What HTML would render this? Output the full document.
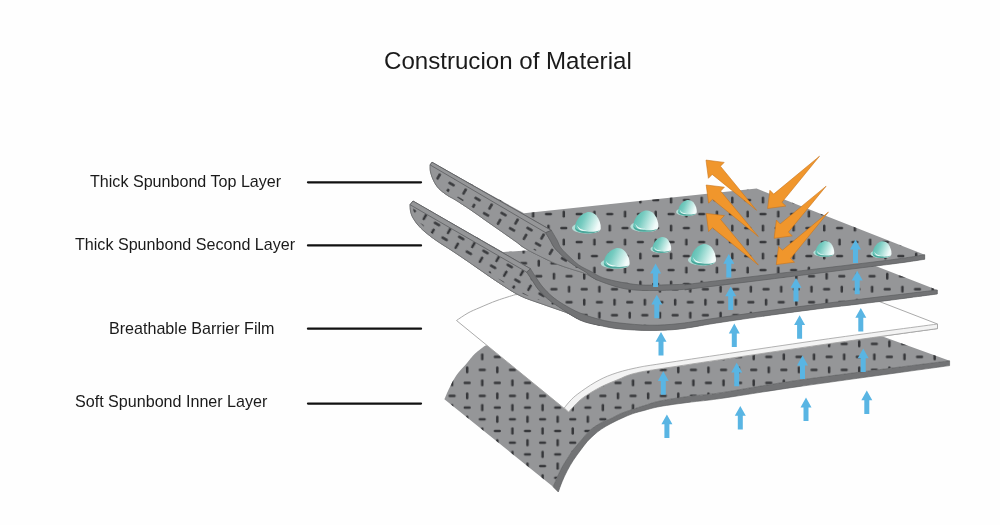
<!DOCTYPE html>
<html><head><meta charset="utf-8"><style>
html,body{margin:0;padding:0;background:#fefefe;}
#wrap{position:relative;width:1000px;height:525px;overflow:hidden;background:#fefefe;font-family:"Liberation Sans",sans-serif;color:#1a1a1a;}
.t{position:absolute;white-space:nowrap;line-height:1;will-change:transform;}
</style></head><body><div id="wrap">
<svg width="1000" height="525" viewBox="0 0 1000 525" style="position:absolute;left:0;top:0">
<defs>
<pattern id="p4" patternUnits="userSpaceOnUse" width="30.16" height="26.00" patternTransform="translate(444.56,389.40) rotate(0.0)"><g fill="#36373a"><rect x="3.94" y="5.25" width="7.2" height="2.5" rx="1.25"/><rect x="21.37" y="2.90" width="2.5" height="7.2" rx="1.25"/><rect x="6.29" y="15.90" width="2.5" height="7.2" rx="1.25"/><rect x="19.02" y="18.25" width="7.2" height="2.5" rx="1.25"/></g></pattern><pattern id="p4b" patternUnits="userSpaceOnUse" width="30.16" height="23.40" patternTransform="translate(444.56,390.05) rotate(0.0)"><g fill="#36373a"><rect x="3.94" y="4.60" width="7.2" height="2.5" rx="1.25"/><rect x="21.37" y="2.25" width="2.5" height="7.2" rx="1.25"/><rect x="6.29" y="13.95" width="2.5" height="7.2" rx="1.25"/><rect x="19.02" y="16.30" width="7.2" height="2.5" rx="1.25"/></g></pattern><pattern id="p2" patternUnits="userSpaceOnUse" width="30.30" height="26.00" patternTransform="translate(561.52,295.70) rotate(0.0)"><g fill="#36373a"><rect x="3.98" y="5.25" width="7.2" height="2.5" rx="1.25"/><rect x="21.48" y="2.90" width="2.5" height="7.2" rx="1.25"/><rect x="6.33" y="15.90" width="2.5" height="7.2" rx="1.25"/><rect x="19.12" y="18.25" width="7.2" height="2.5" rx="1.25"/></g></pattern><pattern id="p1" patternUnits="userSpaceOnUse" width="30.64" height="28.00" patternTransform="translate(556.14,221.10) rotate(0.0)"><g fill="#36373a"><rect x="4.06" y="5.75" width="7.2" height="2.5" rx="1.25"/><rect x="21.73" y="3.40" width="2.5" height="7.2" rx="1.25"/><rect x="6.41" y="17.40" width="2.5" height="7.2" rx="1.25"/><rect x="19.38" y="19.75" width="7.2" height="2.5" rx="1.25"/></g></pattern><pattern id="pt1" patternUnits="userSpaceOnUse" width="30.00" height="18.00" patternTransform="translate(447.35,176.45) rotate(30.0)"><g fill="#36373a"><rect x="3.90" y="3.25" width="7.2" height="2.5" rx="1.25"/><rect x="21.25" y="0.90" width="2.5" height="7.2" rx="1.25"/><rect x="6.25" y="9.90" width="2.5" height="7.2" rx="1.25"/><rect x="18.90" y="12.25" width="7.2" height="2.5" rx="1.25"/></g></pattern><pattern id="pt2" patternUnits="userSpaceOnUse" width="28.00" height="18.00" patternTransform="translate(433.19,216.60) rotate(30.0)"><g fill="#36373a"><rect x="3.40" y="3.25" width="7.2" height="2.5" rx="1.25"/><rect x="19.75" y="0.90" width="2.5" height="7.2" rx="1.25"/><rect x="5.75" y="9.90" width="2.5" height="7.2" rx="1.25"/><rect x="17.40" y="12.25" width="7.2" height="2.5" rx="1.25"/></g></pattern>
<clipPath id="ct1"><path d="M432.0,162.2 L551.4,230.4 L545.7,232.7 C546.4,233.9 548.5,237.5 550.0,240.0 C551.5,242.5 552.2,245.0 554.5,247.9 C556.8,250.8 560.8,254.5 564.0,257.4 C567.2,260.2 570.1,262.6 573.6,265.0 C577.1,267.4 581.1,269.2 585.0,271.7 C588.9,274.2 595.2,278.6 597.2,280.0 C595.2,278.9 588.9,275.2 585.0,273.5 C581.1,271.8 578.7,271.5 573.6,269.8 C568.5,268.1 562.3,266.5 554.5,263.1 C546.7,259.7 533.2,253.0 526.8,249.4 C520.4,245.8 520.4,244.9 516.1,241.8 C511.8,238.8 506.0,234.7 500.9,231.1 C495.8,227.5 490.8,224.1 485.7,220.5 C480.6,216.9 475.6,213.2 470.5,209.8 C465.4,206.4 459.1,202.2 455.2,199.8 C451.3,197.4 450.1,197.2 447.3,195.3 C444.6,193.4 441.0,190.8 438.7,188.4 C436.4,186.0 435.0,183.4 433.6,180.7 C432.2,178.0 431.1,174.6 430.5,172.0 C429.9,169.4 430.2,166.1 430.1,164.9 Z"/></clipPath>
<clipPath id="ct2"><path d="M413.0,201.0 L530.5,268.8 L526.7,272.1 C527.7,273.6 530.7,278.0 532.6,280.9 C534.5,283.8 535.8,286.4 538.3,289.4 C540.8,292.3 544.0,295.7 547.4,298.6 C550.8,301.5 553.5,303.4 558.9,307.0 C564.3,310.6 573.1,316.9 580.0,320.0 C586.9,323.1 596.7,324.6 600.0,325.5 C596.7,324.4 585.7,321.2 580.0,319.0 C574.3,316.8 571.9,314.8 565.7,312.3 C559.5,309.9 550.5,307.1 542.9,304.3 C535.3,301.5 527.1,299.2 520.0,295.7 C512.9,292.2 506.0,287.4 500.0,283.5 C494.0,279.6 489.1,276.2 483.8,272.5 C478.5,268.8 473.3,265.1 468.0,261.5 C462.7,257.9 457.2,254.1 452.0,250.7 C446.8,247.3 441.5,244.1 437.0,241.0 C432.5,237.9 428.2,234.6 425.0,231.9 C421.8,229.2 420.1,227.4 418.0,225.0 C415.9,222.6 413.9,219.5 412.6,217.2 C411.4,214.9 410.9,213.1 410.5,211.0 C410.1,208.9 410.1,205.8 410.0,204.7 Z"/></clipPath>
<clipPath id="cTop"><rect x="0" y="0" width="1000" height="402"/></clipPath>
<clipPath id="cBot"><rect x="0" y="402" width="1000" height="123"/></clipPath>
<linearGradient id="dg" x1="0" y1="0" x2="1" y2="0.35">
<stop offset="0" stop-color="#4db5a8"/><stop offset="0.4" stop-color="#76cbc0"/><stop offset="0.75" stop-color="#bfe8e2"/><stop offset="1" stop-color="#f2fbfa"/>
</linearGradient>
</defs>
<g stroke-linejoin="round">
<!-- layer 4 -->
<path d="M444.4,399.3 C445.2,397.4 447.4,391.9 449.4,387.9 C451.4,383.8 453.7,379.1 456.6,375.0 C459.5,370.9 463.5,367.2 466.6,363.6 C469.7,360.0 472.0,356.6 475.1,353.6 C478.2,350.6 483.4,347.0 485.1,345.7 L520.0,335.0 L700.0,335.0 L884.0,337.0 L949.6,360.8 C924.7,364.0 838.3,374.6 800.0,380.0 C761.7,385.4 738.3,390.2 720.0,392.9 C701.7,395.6 700.0,394.8 690.0,396.2 C680.0,397.6 667.6,399.4 660.0,401.0 C652.4,402.6 648.8,404.2 644.3,405.6 C639.8,407.0 636.7,408.0 632.9,409.3 C629.1,410.6 625.2,411.7 621.4,413.3 C617.6,414.9 612.9,417.7 610.0,419.0 C607.1,420.3 606.6,420.1 604.3,421.2 C602.0,422.3 598.6,424.1 596.0,425.8 C593.4,427.5 591.3,429.0 588.9,431.4 C586.5,433.8 584.0,436.9 581.4,440.0 C578.8,443.1 575.4,446.9 573.0,450.0 C570.6,453.1 569.1,455.8 567.3,458.6 C565.5,461.5 563.7,464.2 562.1,467.1 C560.5,470.0 559.4,472.4 557.9,475.7 C556.4,479.0 553.9,484.9 553.1,486.8 Z" fill="#959698"/>
<path d="M444.4,399.3 C445.2,397.4 447.4,391.9 449.4,387.9 C451.4,383.8 453.7,379.1 456.6,375.0 C459.5,370.9 463.5,367.2 466.6,363.6 C469.7,360.0 472.0,356.6 475.1,353.6 C478.2,350.6 483.4,347.0 485.1,345.7 L520.0,335.0 L700.0,335.0 L884.0,337.0 L949.6,360.8 C924.7,364.0 838.3,374.6 800.0,380.0 C761.7,385.4 738.3,390.2 720.0,392.9 C701.7,395.6 700.0,394.8 690.0,396.2 C680.0,397.6 667.6,399.4 660.0,401.0 C652.4,402.6 648.8,404.2 644.3,405.6 C639.8,407.0 636.7,408.0 632.9,409.3 C629.1,410.6 625.2,411.7 621.4,413.3 C617.6,414.9 612.9,417.7 610.0,419.0 C607.1,420.3 606.6,420.1 604.3,421.2 C602.0,422.3 598.6,424.1 596.0,425.8 C593.4,427.5 591.3,429.0 588.9,431.4 C586.5,433.8 584.0,436.9 581.4,440.0 C578.8,443.1 575.4,446.9 573.0,450.0 C570.6,453.1 569.1,455.8 567.3,458.6 C565.5,461.5 563.7,464.2 562.1,467.1 C560.5,470.0 559.4,472.4 557.9,475.7 C556.4,479.0 553.9,484.9 553.1,486.8 Z" fill="url(#p4)" clip-path="url(#cTop)"/>
<path d="M444.4,399.3 C445.2,397.4 447.4,391.9 449.4,387.9 C451.4,383.8 453.7,379.1 456.6,375.0 C459.5,370.9 463.5,367.2 466.6,363.6 C469.7,360.0 472.0,356.6 475.1,353.6 C478.2,350.6 483.4,347.0 485.1,345.7 L520.0,335.0 L700.0,335.0 L884.0,337.0 L949.6,360.8 C924.7,364.0 838.3,374.6 800.0,380.0 C761.7,385.4 738.3,390.2 720.0,392.9 C701.7,395.6 700.0,394.8 690.0,396.2 C680.0,397.6 667.6,399.4 660.0,401.0 C652.4,402.6 648.8,404.2 644.3,405.6 C639.8,407.0 636.7,408.0 632.9,409.3 C629.1,410.6 625.2,411.7 621.4,413.3 C617.6,414.9 612.9,417.7 610.0,419.0 C607.1,420.3 606.6,420.1 604.3,421.2 C602.0,422.3 598.6,424.1 596.0,425.8 C593.4,427.5 591.3,429.0 588.9,431.4 C586.5,433.8 584.0,436.9 581.4,440.0 C578.8,443.1 575.4,446.9 573.0,450.0 C570.6,453.1 569.1,455.8 567.3,458.6 C565.5,461.5 563.7,464.2 562.1,467.1 C560.5,470.0 559.4,472.4 557.9,475.7 C556.4,479.0 553.9,484.9 553.1,486.8 Z" fill="url(#p4b)" clip-path="url(#cBot)"/>
<path d="M553.1,486.8 C553.9,484.9 556.4,479.0 557.9,475.7 C559.4,472.4 560.5,470.0 562.1,467.1 C563.7,464.2 565.5,461.5 567.3,458.6 C569.1,455.8 570.6,453.1 573.0,450.0 C575.4,446.9 578.8,443.1 581.4,440.0 C584.0,436.9 586.5,433.8 588.9,431.4 C591.3,429.0 593.4,427.5 596.0,425.8 C598.6,424.1 602.0,422.3 604.3,421.2 C606.6,420.1 607.1,420.3 610.0,419.0 C612.9,417.7 617.6,414.9 621.4,413.3 C625.2,411.7 629.1,410.6 632.9,409.3 C636.7,408.0 639.8,407.0 644.3,405.6 C648.8,404.2 652.4,402.6 660.0,401.0 C667.6,399.4 680.0,397.6 690.0,396.2 C700.0,394.8 701.7,395.6 720.0,392.9 C738.3,390.2 761.7,385.4 800.0,380.0 C838.3,374.6 924.7,364.0 949.6,360.8 L949.6,365.6 C924.7,369.1 838.3,380.9 800.0,386.4 C761.7,391.9 738.3,396.0 720.0,398.6 C701.7,401.2 700.0,400.9 690.0,402.2 C680.0,403.5 667.6,405.1 660.0,406.5 C652.4,407.9 648.8,409.2 644.3,410.4 C639.8,411.6 636.7,412.3 632.9,413.6 C629.1,414.9 625.2,416.7 621.4,418.4 C617.6,420.1 613.3,422.2 610.0,424.0 C606.7,425.8 604.1,427.3 601.4,429.1 C598.7,430.9 596.4,432.8 594.0,434.9 C591.6,437.0 589.3,439.2 587.1,441.7 C584.9,444.2 583.0,446.9 580.7,450.0 C578.4,453.1 575.5,456.9 573.3,460.3 C571.1,463.7 569.2,467.0 567.3,470.6 C565.4,474.2 563.6,478.1 562.1,481.7 C560.6,485.3 558.9,490.3 558.3,492.0 Z" fill="#727375" stroke="#58595b" stroke-width="0.6"/>
<!-- film -->
<path d="M456.5,320.5 C458.4,319.2 464.1,315.2 468.0,313.0 C471.9,310.8 475.2,309.6 480.0,307.5 C484.8,305.4 491.2,302.6 497.0,300.5 C502.8,298.4 512.0,295.7 515.0,294.7 L560.0,292.0 L700.0,288.0 L878.0,301.0 L937.5,324.0 L937.5,328.6 C917.9,331.3 864.6,338.6 820.0,345.0 C775.4,351.4 700.8,362.6 670.0,367.3 C639.2,372.0 643.7,371.2 635.0,373.3 C626.3,375.4 623.6,377.3 617.9,379.6 C612.2,381.9 606.4,384.1 600.7,387.0 C595.0,389.9 587.9,394.3 583.6,397.3 C579.3,400.3 577.5,402.6 575.0,405.0 C572.5,407.4 569.7,410.8 568.6,412.0 Z" fill="#ffffff" stroke="#a0a0a0" stroke-width="0.9"/>
<path d="M564.3,408.0 C565.2,406.8 567.7,403.4 570.0,401.0 C572.3,398.6 573.7,397.0 577.9,393.9 C582.1,390.8 589.3,385.6 595.0,382.4 C600.7,379.1 605.4,376.8 612.1,374.4 C618.8,372.0 625.4,370.1 635.0,368.1 C644.6,366.1 639.2,367.0 670.0,362.3 C700.8,357.6 775.4,346.4 820.0,340.0 C864.6,333.6 917.9,326.7 937.5,324.0 L937.5,328.6 C917.9,331.3 864.6,338.6 820.0,345.0 C775.4,351.4 700.8,362.6 670.0,367.3 C639.2,372.0 643.7,371.2 635.0,373.3 C626.3,375.4 623.6,377.3 617.9,379.6 C612.2,381.9 606.4,384.1 600.7,387.0 C595.0,389.9 587.9,394.3 583.6,397.3 C579.3,400.3 577.5,402.6 575.0,405.0 C572.5,407.4 569.7,410.8 568.6,412.0 Z" fill="#f3f3f3" stroke="#a0a0a0" stroke-width="0.8"/>
<!-- layer 2 -->
<path d="M413.0,201.0 L502.9,252.1 L526.3,250.6 L600.0,242.0 L800.0,242.0 L873.0,265.0 L937.3,290.0 L937.3,294.0 C927.8,295.2 902.9,298.6 880.0,301.5 C857.1,304.4 826.7,307.7 800.0,311.2 C773.3,314.7 740.0,319.5 720.0,322.5 C700.0,325.5 691.7,327.7 680.0,329.0 C668.3,330.3 660.0,330.5 650.0,330.5 C640.0,330.5 628.3,329.8 620.0,329.0 C611.7,328.2 603.3,326.1 600.0,325.5 C596.7,324.4 585.7,321.2 580.0,319.0 C574.3,316.8 571.9,314.8 565.7,312.3 C559.5,309.9 550.5,307.1 542.9,304.3 C535.3,301.5 527.1,299.2 520.0,295.7 C512.9,292.2 506.0,287.4 500.0,283.5 C494.0,279.6 489.1,276.2 483.8,272.5 C478.5,268.8 473.3,265.1 468.0,261.5 C462.7,257.9 457.2,254.1 452.0,250.7 C446.8,247.3 441.5,244.1 437.0,241.0 C432.5,237.9 428.2,234.6 425.0,231.9 C421.8,229.2 420.1,227.4 418.0,225.0 C415.9,222.6 413.9,219.5 412.6,217.2 C411.4,214.9 410.9,213.1 410.5,211.0 C410.1,208.9 410.1,205.8 410.0,204.7 Z" fill="#959698"/>
<path d="M413.0,201.0 L502.9,252.1 L526.3,250.6 L600.0,242.0 L800.0,242.0 L873.0,265.0 L937.3,290.0 C927.8,291.1 902.9,294.1 880.0,296.8 C857.1,299.6 826.7,303.1 800.0,306.5 C773.3,309.9 740.0,314.7 720.0,317.5 C700.0,320.3 691.7,322.2 680.0,323.5 C668.3,324.8 660.0,325.3 650.0,325.2 C640.0,325.1 628.3,323.9 620.0,323.0 C611.7,322.1 606.7,321.2 600.0,319.5 C593.3,317.8 586.1,315.5 580.0,313.0 C573.9,310.5 568.1,307.1 563.4,304.3 C558.7,301.5 555.4,299.2 552.0,296.3 C548.6,293.4 545.4,290.0 542.9,287.1 C540.4,284.2 539.2,282.2 537.1,279.1 C535.0,276.1 531.6,270.5 530.5,268.8 Z" fill="url(#p2)"/>
<path d="M413.0,201.0 L530.5,268.8 L526.7,272.1 C527.7,273.6 530.7,278.0 532.6,280.9 C534.5,283.8 535.8,286.4 538.3,289.4 C540.8,292.3 544.0,295.7 547.4,298.6 C550.8,301.5 553.5,303.4 558.9,307.0 C564.3,310.6 573.1,316.9 580.0,320.0 C586.9,323.1 596.7,324.6 600.0,325.5 C596.7,324.4 585.7,321.2 580.0,319.0 C574.3,316.8 571.9,314.8 565.7,312.3 C559.5,309.9 550.5,307.1 542.9,304.3 C535.3,301.5 527.1,299.2 520.0,295.7 C512.9,292.2 506.0,287.4 500.0,283.5 C494.0,279.6 489.1,276.2 483.8,272.5 C478.5,268.8 473.3,265.1 468.0,261.5 C462.7,257.9 457.2,254.1 452.0,250.7 C446.8,247.3 441.5,244.1 437.0,241.0 C432.5,237.9 428.2,234.6 425.0,231.9 C421.8,229.2 420.1,227.4 418.0,225.0 C415.9,222.6 413.9,219.5 412.6,217.2 C411.4,214.9 410.9,213.1 410.5,211.0 C410.1,208.9 410.1,205.8 410.0,204.7 Z" fill="#959698" stroke="#6a6b6d" stroke-width="0.7"/>
<path d="M413.0,201.0 L530.5,268.8 L526.7,272.1 C527.7,273.6 530.7,278.0 532.6,280.9 C534.5,283.8 535.8,286.4 538.3,289.4 C540.8,292.3 544.0,295.7 547.4,298.6 C550.8,301.5 553.5,303.4 558.9,307.0 C564.3,310.6 573.1,316.9 580.0,320.0 C586.9,323.1 596.7,324.6 600.0,325.5 C596.7,324.4 585.7,321.2 580.0,319.0 C574.3,316.8 571.9,314.8 565.7,312.3 C559.5,309.9 550.5,307.1 542.9,304.3 C535.3,301.5 527.1,299.2 520.0,295.7 C512.9,292.2 506.0,287.4 500.0,283.5 C494.0,279.6 489.1,276.2 483.8,272.5 C478.5,268.8 473.3,265.1 468.0,261.5 C462.7,257.9 457.2,254.1 452.0,250.7 C446.8,247.3 441.5,244.1 437.0,241.0 C432.5,237.9 428.2,234.6 425.0,231.9 C421.8,229.2 420.1,227.4 418.0,225.0 C415.9,222.6 413.9,219.5 412.6,217.2 C411.4,214.9 410.9,213.1 410.5,211.0 C410.1,208.9 410.1,205.8 410.0,204.7 Z" fill="url(#pt2)"/>
<path d="M410.0,204.7 C410.1,205.8 410.1,208.9 410.5,211.0 C410.9,213.1 411.4,214.9 412.6,217.2 C413.9,219.5 415.9,222.6 418.0,225.0 C420.1,227.4 421.8,229.2 425.0,231.9 C428.2,234.6 432.5,237.9 437.0,241.0 C441.5,244.1 446.8,247.3 452.0,250.7 C457.2,254.1 462.7,257.9 468.0,261.5 C473.3,265.1 478.5,268.8 483.8,272.5 C489.1,276.2 494.0,279.6 500.0,283.5 C506.0,287.4 512.9,292.2 520.0,295.7 C527.1,299.2 535.3,301.5 542.9,304.3 C550.5,307.1 559.5,309.9 565.7,312.3 C571.9,314.8 574.3,316.8 580.0,319.0 C585.7,321.2 596.7,324.4 600.0,325.5" fill="none" stroke="#959698" stroke-width="6" clip-path="url(#ct2)"/>
<path d="M410.0,204.7 C410.1,205.8 410.1,208.9 410.5,211.0 C410.9,213.1 411.4,214.9 412.6,217.2 C413.9,219.5 415.9,222.6 418.0,225.0 C420.1,227.4 421.8,229.2 425.0,231.9 C428.2,234.6 432.5,237.9 437.0,241.0 C441.5,244.1 446.8,247.3 452.0,250.7 C457.2,254.1 462.7,257.9 468.0,261.5 C473.3,265.1 478.5,268.8 483.8,272.5 C489.1,276.2 494.0,279.6 500.0,283.5 C506.0,287.4 512.9,292.2 520.0,295.7 C527.1,299.2 535.3,301.5 542.9,304.3 C550.5,307.1 559.5,309.9 565.7,312.3 C571.9,314.8 574.3,316.8 580.0,319.0 C585.7,321.2 596.7,324.4 600.0,325.5" fill="none" stroke="#6a6b6d" stroke-width="0.7"/>
<path d="M413.0,201.0 L530.5,268.8 L526.7,272.1 L410.0,204.7 Z" fill="#959698" stroke="#5c5d5f" stroke-width="0.8"/>
<path d="M530.5,268.8 C531.6,270.5 535.0,276.1 537.1,279.1 C539.2,282.2 540.4,284.2 542.9,287.1 C545.4,290.0 548.6,293.4 552.0,296.3 C555.4,299.2 558.7,301.5 563.4,304.3 C568.1,307.1 573.9,310.5 580.0,313.0 C586.1,315.5 593.3,317.8 600.0,319.5 C606.7,321.2 611.7,322.1 620.0,323.0 C628.3,323.9 640.0,325.1 650.0,325.2 C660.0,325.3 668.3,324.8 680.0,323.5 C691.7,322.2 700.0,320.3 720.0,317.5 C740.0,314.7 773.3,309.9 800.0,306.5 C826.7,303.1 857.1,299.6 880.0,296.8 C902.9,294.1 927.8,291.1 937.3,290.0 L937.3,294.0 C927.8,295.2 902.9,298.6 880.0,301.5 C857.1,304.4 826.7,307.7 800.0,311.2 C773.3,314.7 740.0,319.5 720.0,322.5 C700.0,325.5 691.7,327.7 680.0,329.0 C668.3,330.3 660.0,330.5 650.0,330.5 C640.0,330.5 628.3,329.8 620.0,329.0 C611.7,328.2 606.7,327.0 600.0,325.5 C593.3,324.0 586.9,323.1 580.0,320.0 C573.1,316.9 564.3,310.6 558.9,307.0 C553.5,303.4 550.8,301.5 547.4,298.6 C544.0,295.7 540.8,292.3 538.3,289.4 C535.8,286.4 534.5,283.8 532.6,280.9 C530.7,278.0 527.7,273.6 526.7,272.1 Z" fill="#727375" stroke="#58595b" stroke-width="0.6"/>
<!-- layer 1 -->
<path d="M432.0,162.2 L524.0,213.3 L756.6,188.6 L924.7,254.7 L924.7,259.3 C917.2,260.3 917.5,260.8 880.0,265.5 C842.5,270.2 731.7,283.9 700.0,287.8 C668.3,291.7 697.0,288.6 690.0,289.0 C683.0,289.4 668.7,290.5 658.0,290.5 C647.3,290.5 636.1,290.8 626.0,289.0 C615.9,287.2 602.0,281.5 597.2,280.0 C595.2,278.9 588.9,275.2 585.0,273.5 C581.1,271.8 578.7,271.5 573.6,269.8 C568.5,268.1 562.3,266.5 554.5,263.1 C546.7,259.7 533.2,253.0 526.8,249.4 C520.4,245.8 520.4,244.9 516.1,241.8 C511.8,238.8 506.0,234.7 500.9,231.1 C495.8,227.5 490.8,224.1 485.7,220.5 C480.6,216.9 475.6,213.2 470.5,209.8 C465.4,206.4 459.1,202.2 455.2,199.8 C451.3,197.4 450.1,197.2 447.3,195.3 C444.6,193.4 441.0,190.8 438.7,188.4 C436.4,186.0 435.0,183.4 433.6,180.7 C432.2,178.0 431.1,174.6 430.5,172.0 C429.9,169.4 430.2,166.1 430.1,164.9 Z" fill="#959698"/>
<path d="M432.0,162.2 L524.0,213.3 L756.6,188.6 L924.7,254.7 C917.2,255.8 917.5,256.5 880.0,261.2 C842.5,265.9 731.7,279.0 700.0,282.8 C668.3,286.6 697.0,283.6 690.0,284.0 C683.0,284.4 667.3,284.9 658.0,285.0 C648.7,285.1 642.8,285.4 634.0,284.3 C625.2,283.2 612.5,280.7 605.2,278.5 C597.9,276.3 594.4,273.2 590.0,271.0 C585.6,268.8 582.1,267.3 578.8,265.0 C575.5,262.7 573.2,260.2 570.2,257.4 C567.2,254.6 563.2,250.9 561.0,248.0 C558.8,245.1 558.6,242.9 557.0,240.0 C555.4,237.1 552.3,232.0 551.4,230.4 Z" fill="url(#p1)"/>
<path d="M432.0,162.2 L551.4,230.4 L545.7,232.7 C546.4,233.9 548.5,237.5 550.0,240.0 C551.5,242.5 552.2,245.0 554.5,247.9 C556.8,250.8 560.8,254.5 564.0,257.4 C567.2,260.2 570.1,262.6 573.6,265.0 C577.1,267.4 581.1,269.2 585.0,271.7 C588.9,274.2 595.2,278.6 597.2,280.0 C595.2,278.9 588.9,275.2 585.0,273.5 C581.1,271.8 578.7,271.5 573.6,269.8 C568.5,268.1 562.3,266.5 554.5,263.1 C546.7,259.7 533.2,253.0 526.8,249.4 C520.4,245.8 520.4,244.9 516.1,241.8 C511.8,238.8 506.0,234.7 500.9,231.1 C495.8,227.5 490.8,224.1 485.7,220.5 C480.6,216.9 475.6,213.2 470.5,209.8 C465.4,206.4 459.1,202.2 455.2,199.8 C451.3,197.4 450.1,197.2 447.3,195.3 C444.6,193.4 441.0,190.8 438.7,188.4 C436.4,186.0 435.0,183.4 433.6,180.7 C432.2,178.0 431.1,174.6 430.5,172.0 C429.9,169.4 430.2,166.1 430.1,164.9 Z" fill="#959698" stroke="#6a6b6d" stroke-width="0.7"/>
<path d="M432.0,162.2 L551.4,230.4 L545.7,232.7 C546.4,233.9 548.5,237.5 550.0,240.0 C551.5,242.5 552.2,245.0 554.5,247.9 C556.8,250.8 560.8,254.5 564.0,257.4 C567.2,260.2 570.1,262.6 573.6,265.0 C577.1,267.4 581.1,269.2 585.0,271.7 C588.9,274.2 595.2,278.6 597.2,280.0 C595.2,278.9 588.9,275.2 585.0,273.5 C581.1,271.8 578.7,271.5 573.6,269.8 C568.5,268.1 562.3,266.5 554.5,263.1 C546.7,259.7 533.2,253.0 526.8,249.4 C520.4,245.8 520.4,244.9 516.1,241.8 C511.8,238.8 506.0,234.7 500.9,231.1 C495.8,227.5 490.8,224.1 485.7,220.5 C480.6,216.9 475.6,213.2 470.5,209.8 C465.4,206.4 459.1,202.2 455.2,199.8 C451.3,197.4 450.1,197.2 447.3,195.3 C444.6,193.4 441.0,190.8 438.7,188.4 C436.4,186.0 435.0,183.4 433.6,180.7 C432.2,178.0 431.1,174.6 430.5,172.0 C429.9,169.4 430.2,166.1 430.1,164.9 Z" fill="url(#pt1)"/>
<path d="M430.1,164.9 C430.2,166.1 429.9,169.4 430.5,172.0 C431.1,174.6 432.2,178.0 433.6,180.7 C435.0,183.4 436.4,186.0 438.7,188.4 C441.0,190.8 444.6,193.4 447.3,195.3 C450.1,197.2 451.3,197.4 455.2,199.8 C459.1,202.2 465.4,206.4 470.5,209.8 C475.6,213.2 480.6,216.9 485.7,220.5 C490.8,224.1 495.8,227.5 500.9,231.1 C506.0,234.7 511.8,238.8 516.1,241.8 C520.4,244.9 520.4,245.8 526.8,249.4 C533.2,253.0 546.7,259.7 554.5,263.1 C562.3,266.5 568.5,268.1 573.6,269.8 C578.7,271.5 581.1,271.8 585.0,273.5 C588.9,275.2 595.2,278.9 597.2,280.0" fill="none" stroke="#959698" stroke-width="6" clip-path="url(#ct1)"/>
<path d="M430.1,164.9 C430.2,166.1 429.9,169.4 430.5,172.0 C431.1,174.6 432.2,178.0 433.6,180.7 C435.0,183.4 436.4,186.0 438.7,188.4 C441.0,190.8 444.6,193.4 447.3,195.3 C450.1,197.2 451.3,197.4 455.2,199.8 C459.1,202.2 465.4,206.4 470.5,209.8 C475.6,213.2 480.6,216.9 485.7,220.5 C490.8,224.1 495.8,227.5 500.9,231.1 C506.0,234.7 511.8,238.8 516.1,241.8 C520.4,244.9 520.4,245.8 526.8,249.4 C533.2,253.0 546.7,259.7 554.5,263.1 C562.3,266.5 568.5,268.1 573.6,269.8 C578.7,271.5 581.1,271.8 585.0,273.5 C588.9,275.2 595.2,278.9 597.2,280.0" fill="none" stroke="#6a6b6d" stroke-width="0.7"/>
<path d="M432.0,162.2 L551.4,230.4 L545.7,232.7 L430.1,164.9 Z" fill="#959698" stroke="#5c5d5f" stroke-width="0.8"/>
<path d="M551.4,230.4 C552.3,232.0 555.4,237.1 557.0,240.0 C558.6,242.9 558.8,245.1 561.0,248.0 C563.2,250.9 567.2,254.6 570.2,257.4 C573.2,260.2 575.5,262.7 578.8,265.0 C582.1,267.3 585.6,268.8 590.0,271.0 C594.4,273.2 597.9,276.3 605.2,278.5 C612.5,280.7 625.2,283.2 634.0,284.3 C642.8,285.4 648.7,285.1 658.0,285.0 C667.3,284.9 683.0,284.4 690.0,284.0 C697.0,283.6 668.3,286.6 700.0,282.8 C731.7,279.0 842.5,265.9 880.0,261.2 C917.5,256.5 917.2,255.8 924.7,254.7 L924.7,259.3 C917.2,260.3 917.5,260.8 880.0,265.5 C842.5,270.2 731.7,283.9 700.0,287.8 C668.3,291.7 697.0,288.6 690.0,289.0 C683.0,289.4 668.7,290.5 658.0,290.5 C647.3,290.5 636.1,290.8 626.0,289.0 C615.9,287.2 604.0,282.9 597.2,280.0 C590.4,277.1 588.9,274.2 585.0,271.7 C581.1,269.2 577.1,267.4 573.6,265.0 C570.1,262.6 567.2,260.2 564.0,257.4 C560.8,254.5 556.8,250.8 554.5,247.9 C552.2,245.0 551.5,242.5 550.0,240.0 C548.5,237.5 546.4,233.9 545.7,232.7 Z" fill="#727375" stroke="#58595b" stroke-width="0.6"/>
</g>
<g fill="#59b5e3"><path d="M655.6,263.6 L661.1,273.4 L658.1,273.4 L658.1,287.1 L653.1,287.1 L653.1,273.4 L650.1,273.4 Z"/><path d="M728.8,254.0 L734.3,263.8 L731.3,263.8 L731.3,277.5 L726.3,277.5 L726.3,263.8 L723.3,263.8 Z"/><path d="M855.5,239.6 L861.0,249.4 L858.0,249.4 L858.0,263.1 L853.0,263.1 L853.0,249.4 L850.0,249.4 Z"/><path d="M656.8,294.8 L662.3,304.6 L659.3,304.6 L659.3,318.3 L654.3,318.3 L654.3,304.6 L651.3,304.6 Z"/><path d="M730.7,286.4 L736.2,296.2 L733.2,296.2 L733.2,309.9 L728.2,309.9 L728.2,296.2 L725.2,296.2 Z"/><path d="M796.0,278.0 L801.5,287.8 L798.5,287.8 L798.5,301.5 L793.5,301.5 L793.5,287.8 L790.5,287.8 Z"/><path d="M857.2,270.8 L862.7,280.6 L859.7,280.6 L859.7,294.3 L854.7,294.3 L854.7,280.6 L851.7,280.6 Z"/><path d="M661.0,332.0 L666.5,341.8 L663.5,341.8 L663.5,355.5 L658.5,355.5 L658.5,341.8 L655.5,341.8 Z"/><path d="M734.3,323.6 L739.8,333.4 L736.8,333.4 L736.8,347.1 L731.8,347.1 L731.8,333.4 L728.8,333.4 Z"/><path d="M799.6,315.2 L805.1,325.0 L802.1,325.0 L802.1,338.7 L797.1,338.7 L797.1,325.0 L794.1,325.0 Z"/><path d="M860.8,308.0 L866.3,317.8 L863.3,317.8 L863.3,331.5 L858.3,331.5 L858.3,317.8 L855.3,317.8 Z"/><path d="M663.3,371.2 L668.8,381.0 L665.8,381.0 L665.8,394.7 L660.8,394.7 L660.8,381.0 L657.8,381.0 Z"/><path d="M736.7,362.8 L742.2,372.6 L739.2,372.6 L739.2,386.3 L734.2,386.3 L734.2,372.6 L731.2,372.6 Z"/><path d="M802.5,355.6 L808.0,365.4 L805.0,365.4 L805.0,379.1 L800.0,379.1 L800.0,365.4 L797.0,365.4 Z"/><path d="M863.2,348.4 L868.7,358.2 L865.7,358.2 L865.7,371.9 L860.7,371.9 L860.7,358.2 L857.7,358.2 Z"/><path d="M666.9,414.4 L672.4,424.2 L669.4,424.2 L669.4,437.9 L664.4,437.9 L664.4,424.2 L661.4,424.2 Z"/><path d="M740.3,406.0 L745.8,415.8 L742.8,415.8 L742.8,429.5 L737.8,429.5 L737.8,415.8 L734.8,415.8 Z"/><path d="M806.0,397.6 L811.5,407.4 L808.5,407.4 L808.5,421.1 L803.5,421.1 L803.5,407.4 L800.5,407.4 Z"/><path d="M866.8,390.4 L872.3,400.2 L869.3,400.2 L869.3,413.9 L864.3,413.9 L864.3,400.2 L861.3,400.2 Z"/></g>
<g transform="translate(572.00,211.80) scale(0.993,1.000)"><ellipse cx="13.8" cy="16.3" rx="13.8" ry="5.3" fill="#b4ddd6"/><path d="M3,16 C3,9.5 8,2.5 14.5,0.6 C18,-0.3 22,0.8 24.5,3.8 C27.5,7.5 29.2,12.5 29,16.5 C28.7,20 24,21.6 17,21.6 C9.5,21.6 3,20.5 3,16 Z" fill="url(#dg)"/><path d="M3,15.5 C3.2,19.5 9,21.6 16.5,21.6 C22,21.6 26.5,20.6 28,18.5 C24,20 20,20.2 15,19.8 C9,19.3 4.5,18 3,15.5 Z" fill="#3d9d90" opacity="0.85"/><path d="M5.2,13.2 C6.5,16.8 10,18.3 15.5,18.5 C10.5,20 6,18.5 5.2,13.2 Z" fill="#f6fffd"/></g><g transform="translate(630.40,210.20) scale(0.966,1.000)"><ellipse cx="13.8" cy="16.3" rx="13.8" ry="5.3" fill="#b4ddd6"/><path d="M3,16 C3,9.5 8,2.5 14.5,0.6 C18,-0.3 22,0.8 24.5,3.8 C27.5,7.5 29.2,12.5 29,16.5 C28.7,20 24,21.6 17,21.6 C9.5,21.6 3,20.5 3,16 Z" fill="url(#dg)"/><path d="M3,15.5 C3.2,19.5 9,21.6 16.5,21.6 C22,21.6 26.5,20.6 28,18.5 C24,20 20,20.2 15,19.8 C9,19.3 4.5,18 3,15.5 Z" fill="#3d9d90" opacity="0.85"/><path d="M5.2,13.2 C6.5,16.8 10,18.3 15.5,18.5 C10.5,20 6,18.5 5.2,13.2 Z" fill="#f6fffd"/></g><g transform="translate(676.00,199.80) scale(0.717,0.741)"><ellipse cx="13.8" cy="16.3" rx="13.8" ry="5.3" fill="#b4ddd6"/><path d="M3,16 C3,9.5 8,2.5 14.5,0.6 C18,-0.3 22,0.8 24.5,3.8 C27.5,7.5 29.2,12.5 29,16.5 C28.7,20 24,21.6 17,21.6 C9.5,21.6 3,20.5 3,16 Z" fill="url(#dg)"/><path d="M3,15.5 C3.2,19.5 9,21.6 16.5,21.6 C22,21.6 26.5,20.6 28,18.5 C24,20 20,20.2 15,19.8 C9,19.3 4.5,18 3,15.5 Z" fill="#3d9d90" opacity="0.85"/><path d="M5.2,13.2 C6.5,16.8 10,18.3 15.5,18.5 C10.5,20 6,18.5 5.2,13.2 Z" fill="#f6fffd"/></g><g transform="translate(600.80,247.80) scale(0.993,0.963)"><ellipse cx="13.8" cy="16.3" rx="13.8" ry="5.3" fill="#b4ddd6"/><path d="M3,16 C3,9.5 8,2.5 14.5,0.6 C18,-0.3 22,0.8 24.5,3.8 C27.5,7.5 29.2,12.5 29,16.5 C28.7,20 24,21.6 17,21.6 C9.5,21.6 3,20.5 3,16 Z" fill="url(#dg)"/><path d="M3,15.5 C3.2,19.5 9,21.6 16.5,21.6 C22,21.6 26.5,20.6 28,18.5 C24,20 20,20.2 15,19.8 C9,19.3 4.5,18 3,15.5 Z" fill="#3d9d90" opacity="0.85"/><path d="M5.2,13.2 C6.5,16.8 10,18.3 15.5,18.5 C10.5,20 6,18.5 5.2,13.2 Z" fill="#f6fffd"/></g><g transform="translate(650.40,236.90) scale(0.717,0.741)"><ellipse cx="13.8" cy="16.3" rx="13.8" ry="5.3" fill="#b4ddd6"/><path d="M3,16 C3,9.5 8,2.5 14.5,0.6 C18,-0.3 22,0.8 24.5,3.8 C27.5,7.5 29.2,12.5 29,16.5 C28.7,20 24,21.6 17,21.6 C9.5,21.6 3,20.5 3,16 Z" fill="url(#dg)"/><path d="M3,15.5 C3.2,19.5 9,21.6 16.5,21.6 C22,21.6 26.5,20.6 28,18.5 C24,20 20,20.2 15,19.8 C9,19.3 4.5,18 3,15.5 Z" fill="#3d9d90" opacity="0.85"/><path d="M5.2,13.2 C6.5,16.8 10,18.3 15.5,18.5 C10.5,20 6,18.5 5.2,13.2 Z" fill="#f6fffd"/></g><g transform="translate(688.00,243.80) scale(0.966,1.000)"><ellipse cx="13.8" cy="16.3" rx="13.8" ry="5.3" fill="#b4ddd6"/><path d="M3,16 C3,9.5 8,2.5 14.5,0.6 C18,-0.3 22,0.8 24.5,3.8 C27.5,7.5 29.2,12.5 29,16.5 C28.7,20 24,21.6 17,21.6 C9.5,21.6 3,20.5 3,16 Z" fill="url(#dg)"/><path d="M3,15.5 C3.2,19.5 9,21.6 16.5,21.6 C22,21.6 26.5,20.6 28,18.5 C24,20 20,20.2 15,19.8 C9,19.3 4.5,18 3,15.5 Z" fill="#3d9d90" opacity="0.85"/><path d="M5.2,13.2 C6.5,16.8 10,18.3 15.5,18.5 C10.5,20 6,18.5 5.2,13.2 Z" fill="#f6fffd"/></g><g transform="translate(813.25,240.75) scale(0.724,0.741)"><ellipse cx="13.8" cy="16.3" rx="13.8" ry="5.3" fill="#b4ddd6"/><path d="M3,16 C3,9.5 8,2.5 14.5,0.6 C18,-0.3 22,0.8 24.5,3.8 C27.5,7.5 29.2,12.5 29,16.5 C28.7,20 24,21.6 17,21.6 C9.5,21.6 3,20.5 3,16 Z" fill="url(#dg)"/><path d="M3,15.5 C3.2,19.5 9,21.6 16.5,21.6 C22,21.6 26.5,20.6 28,18.5 C24,20 20,20.2 15,19.8 C9,19.3 4.5,18 3,15.5 Z" fill="#3d9d90" opacity="0.85"/><path d="M5.2,13.2 C6.5,16.8 10,18.3 15.5,18.5 C10.5,20 6,18.5 5.2,13.2 Z" fill="#f6fffd"/></g><g transform="translate(870.50,241.00) scale(0.724,0.787)"><ellipse cx="13.8" cy="16.3" rx="13.8" ry="5.3" fill="#b4ddd6"/><path d="M3,16 C3,9.5 8,2.5 14.5,0.6 C18,-0.3 22,0.8 24.5,3.8 C27.5,7.5 29.2,12.5 29,16.5 C28.7,20 24,21.6 17,21.6 C9.5,21.6 3,20.5 3,16 Z" fill="url(#dg)"/><path d="M3,15.5 C3.2,19.5 9,21.6 16.5,21.6 C22,21.6 26.5,20.6 28,18.5 C24,20 20,20.2 15,19.8 C9,19.3 4.5,18 3,15.5 Z" fill="#3d9d90" opacity="0.85"/><path d="M5.2,13.2 C6.5,16.8 10,18.3 15.5,18.5 C10.5,20 6,18.5 5.2,13.2 Z" fill="#f6fffd"/></g>
<g fill="#f0962c" stroke="#c9761c" stroke-width="0.6" stroke-linejoin="miter"><path d="M706.0,160.1 L708.4,178.3 L712.2,174.4 L756.5,210.3 L720.4,166.2 L724.2,162.4 Z"/><path d="M706.2,185.0 L708.6,203.2 L712.4,199.3 L758.3,236.5 L720.6,191.1 L724.4,187.2 Z"/><path d="M706.2,213.4 L708.6,231.6 L712.4,227.7 L758.3,265.0 L720.6,219.5 L724.4,215.6 Z"/><path d="M767.6,208.5 L785.8,206.1 L781.9,202.3 L819.5,156.2 L773.7,194.1 L769.9,190.3 Z"/><path d="M774.1,238.3 L792.3,235.9 L788.4,232.1 L826.1,186.2 L780.2,223.9 L776.4,220.1 Z"/><path d="M776.3,264.6 L794.5,262.2 L790.6,258.4 L828.4,212.1 L782.4,250.2 L778.6,246.4 Z"/></g>
<g stroke="#111" stroke-width="2.3" stroke-linecap="round">
<line x1="308" y1="182.3" x2="421" y2="182.3"/>
<line x1="308" y1="245.4" x2="421" y2="245.4"/>
<line x1="308" y1="328.7" x2="421" y2="328.7"/>
<line x1="308" y1="403.6" x2="421" y2="403.6"/>
</g>
</svg>
<div class="t" style="left:383.7px;top:49.1px;font-size:24.1px;">Construcion of Material</div>
<div class="t" style="left:90.2px;top:173.1px;font-size:16.1px;">Thick Spunbond Top Layer</div>
<div class="t" style="left:74.8px;top:235.9px;font-size:16.1px;">Thick Spunbond Second Layer</div>
<div class="t" style="left:108.7px;top:319.9px;font-size:16.1px;">Breathable Barrier Film</div>
<div class="t" style="left:74.6px;top:393.3px;font-size:16.1px;">Soft Spunbond Inner Layer</div>
</div></body></html>
